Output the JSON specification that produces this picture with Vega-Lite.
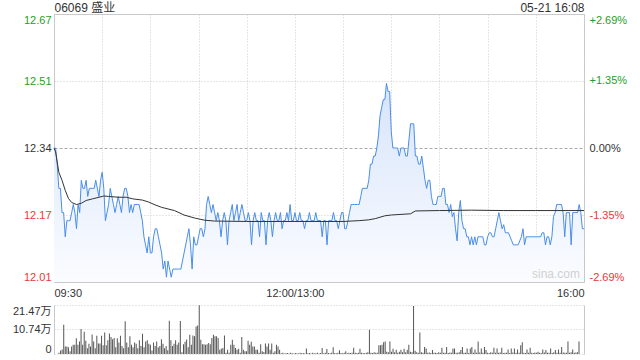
{
  "$schema": "https://vega.github.io/schema/vega-lite/v6.json",
  "background": "white",
  "padding": {"left": 12, "top": 0, "right": 5, "bottom": 2},
  "spacing": 6,
  "config": {
    "font": "Liberation Sans, Noto Sans CJK SC",
    "view": {"stroke": "#c8c8c8"},
    "axis": {"labelFont": "Liberation Sans, Noto Sans CJK SC", "labelFontSize": 11, "labelColor": "#333333", "ticks": false, "domain": false, "title": null}
  },
  "datasets": {
    "min": [
      {"t":0,"p":12.34,"v":0.5},{"t":1,"p":12.34,"v":1.5},{"t":2,"p":12.30,"v":2.0},{"t":3,"p":12.24,"v":12.8},{"t":4,"p":12.24,"v":3.3},{"t":5,"p":12.18,"v":3.3},{"t":6,"p":12.18,"v":3.0},{"t":7,"p":12.12,"v":1.2},{"t":8,"p":12.16,"v":3.3},{"t":9,"p":12.16,"v":4.0},
      {"t":10,"p":12.16,"v":4.0},{"t":11,"p":12.18,"v":6.9},{"t":12,"p":12.20,"v":4.0},{"t":13,"p":12.18,"v":5.5},{"t":14,"p":12.14,"v":11.0},{"t":15,"p":12.20,"v":4.0},{"t":16,"p":12.18,"v":9.8},{"t":17,"p":12.26,"v":5.8},{"t":18,"p":12.24,"v":2.5},{"t":19,"p":12.24,"v":4.5},
      {"t":20,"p":12.26,"v":3.3},{"t":21,"p":12.22,"v":8.5},{"t":22,"p":12.24,"v":5.5},{"t":23,"p":12.24,"v":2.5},{"t":24,"p":12.24,"v":8.0},{"t":25,"p":12.24,"v":4.6},{"t":26,"p":12.26,"v":4.6},{"t":27,"p":12.24,"v":8.0},{"t":28,"p":12.22,"v":3.8},{"t":29,"p":12.26,"v":9.4},
      {"t":30,"p":12.28,"v":3.8},{"t":31,"p":12.24,"v":6.0},{"t":32,"p":12.16,"v":9.0},{"t":33,"p":12.18,"v":7.5},{"t":34,"p":12.20,"v":6.5},{"t":35,"p":12.24,"v":7.0},{"t":36,"p":12.22,"v":3.0},{"t":37,"p":12.20,"v":6.9},{"t":38,"p":12.18,"v":5.0},{"t":39,"p":12.20,"v":8.0},
      {"t":40,"p":12.22,"v":3.5},{"t":41,"p":12.20,"v":2.5},{"t":42,"p":12.18,"v":14.3},{"t":43,"p":12.22,"v":5.0},{"t":44,"p":12.24,"v":3.0},{"t":45,"p":12.24,"v":7.8},{"t":46,"p":12.22,"v":4.0},{"t":47,"p":12.18,"v":3.0},{"t":48,"p":12.20,"v":5.0},{"t":49,"p":12.18,"v":4.5},
      {"t":50,"p":12.20,"v":2.5},{"t":51,"p":12.20,"v":6.0},{"t":52,"p":12.20,"v":3.5},{"t":53,"p":12.20,"v":8.9},{"t":54,"p":12.18,"v":3.0},{"t":55,"p":12.16,"v":5.5},{"t":56,"p":12.12,"v":6.0},{"t":57,"p":12.10,"v":4.5},{"t":58,"p":12.08,"v":4.0},{"t":59,"p":12.12,"v":1.5},
      {"t":60,"p":12.08,"v":5.0},{"t":61,"p":12.08,"v":3.5},{"t":62,"p":12.12,"v":5.5},{"t":63,"p":12.14,"v":2.8},{"t":64,"p":12.14,"v":3.5},{"t":65,"p":12.12,"v":6.5},{"t":66,"p":12.10,"v":4.5},{"t":67,"p":12.08,"v":2.5},{"t":68,"p":12.04,"v":3.5},{"t":69,"p":12.06,"v":1.6},
      {"t":70,"p":12.02,"v":14.6},{"t":71,"p":12.06,"v":6.0},{"t":72,"p":12.04,"v":3.5},{"t":73,"p":12.02,"v":4.5},{"t":74,"p":12.04,"v":6.0},{"t":75,"p":12.04,"v":4.0},{"t":76,"p":12.04,"v":5.0},{"t":77,"p":12.04,"v":14.5},{"t":78,"p":12.04,"v":0.8},{"t":79,"p":12.04,"v":4.3},
      {"t":80,"p":12.06,"v":5.4},{"t":81,"p":12.08,"v":6.3},{"t":82,"p":12.10,"v":3.0},{"t":83,"p":12.12,"v":8.4},{"t":84,"p":12.14,"v":4.0},{"t":85,"p":12.10,"v":8.1},{"t":86,"p":12.04,"v":7.8},{"t":87,"p":12.12,"v":12.0},{"t":88,"p":12.10,"v":12.5},{"t":89,"p":12.10,"v":21.4},
      {"t":90,"p":12.12,"v":6.2},{"t":91,"p":12.14,"v":4.3},{"t":92,"p":12.14,"v":4.3},{"t":93,"p":12.12,"v":4.0},{"t":94,"p":12.14,"v":4.3},{"t":95,"p":12.20,"v":4.8},{"t":96,"p":12.22,"v":4.3},{"t":97,"p":12.20,"v":7.0},{"t":98,"p":12.18,"v":8.4},{"t":99,"p":12.20,"v":7.8},
      {"t":100,"p":12.18,"v":7.8},{"t":101,"p":12.16,"v":7.0},{"t":102,"p":12.18,"v":1.9},{"t":103,"p":12.16,"v":2.3},{"t":104,"p":12.12,"v":2.6},{"t":105,"p":12.16,"v":8.1},{"t":106,"p":12.18,"v":0.5},{"t":107,"p":12.16,"v":1.9},{"t":108,"p":12.10,"v":0.6},{"t":109,"p":12.16,"v":4.0},
      {"t":110,"p":12.18,"v":6.2},{"t":111,"p":12.20,"v":4.0},{"t":112,"p":12.16,"v":2.6},{"t":113,"p":12.18,"v":1.9},{"t":114,"p":12.20,"v":2.3},{"t":115,"p":12.16,"v":0.5},{"t":116,"p":12.18,"v":7.5},{"t":117,"p":12.20,"v":1.9},{"t":118,"p":12.18,"v":1.2},{"t":119,"p":12.16,"v":1.2},
      {"t":120,"p":12.16,"v":5.8},{"t":121,"p":12.18,"v":4.0},{"t":122,"p":12.16,"v":5.4},{"t":123,"p":12.10,"v":3.3},{"t":124,"p":12.16,"v":3.3},{"t":125,"p":12.18,"v":1.9},{"t":126,"p":12.16,"v":1.9},{"t":127,"p":12.16,"v":0.5},{"t":128,"p":12.12,"v":4.3},{"t":129,"p":12.18,"v":1.2},
      {"t":130,"p":12.16,"v":0.9},{"t":131,"p":12.16,"v":4.6},{"t":132,"p":12.10,"v":3.3},{"t":133,"p":12.16,"v":4.6},{"t":134,"p":12.18,"v":1.9},{"t":135,"p":12.16,"v":4.6},{"t":136,"p":12.12,"v":0.5},{"t":137,"p":12.16,"v":1.2},{"t":138,"p":12.18,"v":4.0},{"t":139,"p":12.16,"v":3.3},
      {"t":140,"p":12.16,"v":1.9},{"t":141,"p":12.18,"v":0.3},{"t":142,"p":12.14,"v":0.5},{"t":143,"p":12.16,"v":0.2},{"t":144,"p":12.16,"v":0.3},{"t":145,"p":12.18,"v":0.4},{"t":146,"p":12.16,"v":0.2},{"t":147,"p":12.20,"v":0.6},{"t":148,"p":12.16,"v":0.3},{"t":149,"p":12.16,"v":0.2},
      {"t":150,"p":12.18,"v":0.4},{"t":151,"p":12.16,"v":0.3},{"t":152,"p":12.16,"v":0.2},{"t":153,"p":12.18,"v":0.5},{"t":154,"p":12.16,"v":0.3},{"t":155,"p":12.16,"v":0.4},{"t":156,"p":12.14,"v":0.2},{"t":157,"p":12.16,"v":2.4},{"t":158,"p":12.16,"v":0.3},{"t":159,"p":12.18,"v":0.4},
      {"t":160,"p":12.16,"v":0.2},{"t":161,"p":12.16,"v":0.5},{"t":162,"p":12.16,"v":0.3},{"t":163,"p":12.18,"v":0.3},{"t":164,"p":12.16,"v":0.6},{"t":165,"p":12.16,"v":0.2},{"t":166,"p":12.16,"v":0.4},{"t":167,"p":12.12,"v":2.6},{"t":168,"p":12.16,"v":0.3},{"t":169,"p":12.16,"v":0.5},
      {"t":170,"p":12.10,"v":2.2},{"t":171,"p":12.16,"v":0.4},{"t":172,"p":12.16,"v":0.3},{"t":173,"p":12.16,"v":0.6},{"t":174,"p":12.18,"v":3.0},{"t":175,"p":12.16,"v":0.4},{"t":176,"p":12.16,"v":0.3},{"t":177,"p":12.14,"v":0.5},{"t":178,"p":12.16,"v":1.6},{"t":179,"p":12.18,"v":0.4},
      {"t":180,"p":12.18,"v":0.3},{"t":181,"p":12.14,"v":0.6},{"t":182,"p":12.14,"v":1.2},{"t":183,"p":12.16,"v":0.3},{"t":184,"p":12.18,"v":0.5},{"t":185,"p":12.20,"v":0.4},{"t":186,"p":12.20,"v":0.6},{"t":187,"p":12.20,"v":2.7},{"t":188,"p":12.20,"v":0.5},{"t":189,"p":12.20,"v":0.4},
      {"t":190,"p":12.20,"v":0.6},{"t":191,"p":12.22,"v":2.3},{"t":192,"p":12.24,"v":0.5},{"t":193,"p":12.24,"v":0.4},{"t":194,"p":12.24,"v":0.3},{"t":195,"p":12.24,"v":0.6},{"t":196,"p":12.26,"v":0.8},{"t":197,"p":12.30,"v":10.6},{"t":198,"p":12.30,"v":0.6},{"t":199,"p":12.32,"v":0.4},
      {"t":200,"p":12.32,"v":0.8},{"t":201,"p":12.34,"v":0.5},{"t":202,"p":12.37,"v":0.6},{"t":203,"p":12.42,"v":3.8},{"t":204,"p":12.44,"v":3.8},{"t":205,"p":12.46,"v":4.0},{"t":206,"p":12.46,"v":5.2},{"t":207,"p":12.50,"v":5.5},{"t":208,"p":12.48,"v":1.0},{"t":209,"p":12.48,"v":0.8},
      {"t":210,"p":12.38,"v":5.5},{"t":211,"p":12.34,"v":1.0},{"t":212,"p":12.34,"v":2.3},{"t":213,"p":12.34,"v":0.8},{"t":214,"p":12.34,"v":1.9},{"t":215,"p":12.32,"v":0.6},{"t":216,"p":12.34,"v":1.0},{"t":217,"p":12.34,"v":1.9},{"t":218,"p":12.34,"v":0.8},{"t":219,"p":12.32,"v":2.3},
      {"t":220,"p":12.32,"v":0.8},{"t":221,"p":12.36,"v":1.9},{"t":222,"p":12.40,"v":4.0},{"t":223,"p":12.40,"v":1.0},{"t":224,"p":12.40,"v":0.8},{"t":225,"p":12.32,"v":21.0},{"t":226,"p":12.32,"v":1.4},{"t":227,"p":12.30,"v":0.8},{"t":228,"p":12.30,"v":0.6},{"t":229,"p":12.32,"v":9.4},
      {"t":230,"p":12.29,"v":0.8},{"t":231,"p":12.26,"v":0.6},{"t":232,"p":12.24,"v":3.1},{"t":233,"p":12.26,"v":2.4},{"t":234,"p":12.26,"v":0.5},{"t":235,"p":12.22,"v":0.7},{"t":236,"p":12.20,"v":0.4},{"t":237,"p":12.20,"v":1.7},{"t":238,"p":12.20,"v":0.5},{"t":239,"p":12.22,"v":0.6},
      {"t":240,"p":12.22,"v":0.4},{"t":241,"p":12.22,"v":0.8},{"t":242,"p":12.24,"v":0.5},{"t":243,"p":12.24,"v":2.7},{"t":244,"p":12.20,"v":0.6},{"t":245,"p":12.20,"v":0.5},{"t":246,"p":12.18,"v":3.1},{"t":247,"p":12.20,"v":0.4},{"t":248,"p":12.17,"v":0.7},{"t":249,"p":12.18,"v":0.5},
      {"t":250,"p":12.14,"v":2.4},{"t":251,"p":12.11,"v":2.4},{"t":252,"p":12.18,"v":0.6},{"t":253,"p":12.21,"v":0.5},{"t":254,"p":12.16,"v":0.8},{"t":255,"p":12.14,"v":1.7},{"t":256,"p":12.14,"v":3.1},{"t":257,"p":12.12,"v":0.6},{"t":258,"p":12.12,"v":0.5},{"t":259,"p":12.10,"v":2.4},
      {"t":260,"p":12.12,"v":0.4},{"t":261,"p":12.10,"v":2.4},{"t":262,"p":12.12,"v":3.1},{"t":263,"p":12.10,"v":0.6},{"t":264,"p":12.12,"v":2.0},{"t":265,"p":12.12,"v":0.5},{"t":266,"p":12.12,"v":5.5},{"t":267,"p":12.12,"v":0.7},{"t":268,"p":12.10,"v":2.4},{"t":269,"p":12.10,"v":0.5},
      {"t":270,"p":12.12,"v":3.1},{"t":271,"p":12.13,"v":1.7},{"t":272,"p":12.13,"v":0.6},{"t":273,"p":12.12,"v":0.4},{"t":274,"p":12.12,"v":0.8},{"t":275,"p":12.14,"v":0.5},{"t":276,"p":12.16,"v":2.7},{"t":277,"p":12.18,"v":0.6},{"t":278,"p":12.16,"v":2.4},{"t":279,"p":12.14,"v":0.5},
      {"t":280,"p":12.15,"v":0.7},{"t":281,"p":12.13,"v":2.7},{"t":282,"p":12.13,"v":0.4},{"t":283,"p":12.13,"v":0.6},{"t":284,"p":12.12,"v":0.5},{"t":285,"p":12.11,"v":2.0},{"t":286,"p":12.10,"v":0.4},{"t":287,"p":12.10,"v":2.4},{"t":288,"p":12.10,"v":0.7},{"t":289,"p":12.10,"v":2.4},
      {"t":290,"p":12.11,"v":0.5},{"t":291,"p":12.12,"v":2.0},{"t":292,"p":12.14,"v":0.6},{"t":293,"p":12.10,"v":3.8},{"t":294,"p":12.12,"v":5.2},{"t":295,"p":12.12,"v":0.6},{"t":296,"p":12.12,"v":0.4},{"t":297,"p":12.12,"v":2.0},{"t":298,"p":12.12,"v":0.5},{"t":299,"p":12.12,"v":2.7},
      {"t":300,"p":12.12,"v":0.6},{"t":301,"p":12.12,"v":0.4},{"t":302,"p":12.12,"v":0.7},{"t":303,"p":12.12,"v":0.5},{"t":304,"p":12.13,"v":1.0},{"t":305,"p":12.13,"v":0.6},{"t":306,"p":12.10,"v":0.4},{"t":307,"p":12.12,"v":2.0},{"t":308,"p":12.12,"v":0.7},{"t":309,"p":12.10,"v":1.7},
      {"t":310,"p":12.12,"v":0.5},{"t":311,"p":12.17,"v":0.6},{"t":312,"p":12.18,"v":2.4},{"t":313,"p":12.20,"v":0.4},{"t":314,"p":12.20,"v":0.8},{"t":315,"p":12.20,"v":1.7},{"t":316,"p":12.20,"v":0.6},{"t":317,"p":12.18,"v":2.0},{"t":318,"p":12.12,"v":0.5},{"t":319,"p":12.18,"v":3.1},
      {"t":320,"p":12.18,"v":0.7},{"t":321,"p":12.18,"v":0.5},{"t":322,"p":12.10,"v":0.6},{"t":323,"p":12.18,"v":5.5},{"t":324,"p":12.18,"v":0.5},{"t":325,"p":12.18,"v":0.8},{"t":326,"p":12.18,"v":2.0},{"t":327,"p":12.20,"v":0.6},{"t":328,"p":12.18,"v":0.7},{"t":329,"p":12.14,"v":0.8},
      {"t":330,"p":12.14,"v":5.5}
    ],
    "avg": [
      {"t":0,"a":12.34},{"t":1,"a":12.33},{"t":3,"a":12.28},{"t":5,"a":12.26},{"t":7,"a":12.235},{"t":9,"a":12.215},{"t":11,"a":12.205},{"t":14,"a":12.2},{"t":17,"a":12.203},{"t":20,"a":12.21},
      {"t":24,"a":12.214},{"t":28,"a":12.218},{"t":31,"a":12.221},{"t":34,"a":12.22},{"t":40,"a":12.218},{"t":45,"a":12.218},{"t":49,"a":12.214},{"t":55,"a":12.211},{"t":59,"a":12.206},{"t":63,"a":12.199},
      {"t":67,"a":12.193},{"t":75,"a":12.185},{"t":81,"a":12.174},{"t":88,"a":12.166},{"t":94,"a":12.161},{"t":100,"a":12.159},{"t":120,"a":12.158},{"t":150,"a":12.158},{"t":180,"a":12.158},{"t":190,"a":12.16},
      {"t":196,"a":12.162},{"t":200,"a":12.165},{"t":206,"a":12.172},{"t":210,"a":12.174},{"t":222,"a":12.177},{"t":225,"a":12.184},{"t":240,"a":12.185},{"t":260,"a":12.186},{"t":280,"a":12.185},{"t":300,"a":12.185},{"t":330,"a":12.185}
    ]
  },
  "vconcat": [
    {
      "width": 530,
      "height": 268,
      "layer": [
        {
          "layer": [
            {
              "data": {"name": "min"},
              "mark": {"type": "area", "clip": true, "color": {"gradient": "linear", "x1": 0, "y1": 0, "x2": 0, "y2": 1, "stops": [{"offset": 0, "color": "#d6e4fa"}, {"offset": 1, "color": "#fbfcff"}]}},
              "encoding": {
                "x": {"field": "t", "type": "quantitative", "scale": {"domain": [0, 330], "nice": false, "zero": false},
                  "axis": {"values": [0, 30, 60, 90, 120, 150, 180, 210, 240, 270, 300, 330], "labelExpr": "datum.value == 0 ? '09:30' : datum.value == 150 ? '12:00/13:00' : datum.value == 330 ? '16:00' : ''", "labelFlush": true, "labelOverlap": false, "grid": true, "gridColor": "#cccccc", "gridDash": [1, 2], "labelPadding": 5}},
                "y": {"field": "p", "type": "quantitative", "scale": {"domain": [12.008, 12.672], "nice": false, "zero": false},
                  "axis": {"values": [12.008, 12.174, 12.34, 12.506, 12.672], "format": ".2f", "labelFlush": true, "labelPadding": 3, "grid": true,
                    "gridColor": {"condition": {"test": "datum.value == 12.34", "value": "#aaaaaa"}, "value": "#cccccc"},
                    "gridDash": {"condition": {"test": "datum.value == 12.34", "value": [3, 2]}, "value": [1, 2]},
                    "labelColor": {"condition": [{"test": "datum.value > 12.35", "value": "#1ea01e"}, {"test": "datum.value < 12.33", "value": "#f03535"}], "value": "#333333"}}},
                "y2": {"datum": 12.008}
              }
            },
            {
              "data": {"name": "min"},
              "mark": {"type": "line", "color": "#4a8ee8", "strokeWidth": 1},
              "encoding": {"x": {"field": "t", "type": "quantitative"}, "y": {"field": "p", "type": "quantitative"}}
            },
            {
              "data": {"name": "avg"},
              "mark": {"type": "line", "color": "#333333", "strokeWidth": 1},
              "encoding": {"x": {"field": "t", "type": "quantitative"}, "y": {"field": "a", "type": "quantitative"}}
            },
            {
              "data": {"values": [{"t": 330, "p": 12.008, "label": "sina.com"}]},
              "mark": {"type": "text", "align": "right", "baseline": "bottom", "dx": -4, "dy": -1, "color": "#d0d0d0", "fontSize": 12},
              "encoding": {"x": {"field": "t", "type": "quantitative"}, "y": {"field": "p", "type": "quantitative"}, "text": {"field": "label"}}
            }
          ]
        },
        {
          "data": {"values": [{"t": 0, "pct": 0}]},
          "mark": {"type": "point", "opacity": 0},
          "encoding": {
            "x": {"field": "t", "type": "quantitative", "scale": {"domain": [0, 330], "nice": false, "zero": false},
              "axis": {"orient": "top", "values": [0, 330], "labelExpr": "datum.value == 0 ? '06069 盛业' : '05-21 16:08'", "labelFlush": true, "labelOverlap": false, "labelFontSize": 12, "labelPadding": 0, "grid": false}},
            "y": {"field": "pct", "type": "quantitative", "scale": {"domain": [-2.69, 2.69], "nice": false, "zero": false},
              "axis": {"orient": "right", "values": [-2.69, -1.35, 0, 1.35, 2.69], "labelExpr": "datum.value > 0 ? '+' + format(datum.value, '.2f') + '%' : datum.value < 0 ? '-' + format(-datum.value, '.2f') + '%' : '0.00%'", "labelFlush": true, "labelPadding": 5, "grid": false,
                "labelColor": {"condition": [{"test": "datum.value > 0.01", "value": "#1ea01e"}, {"test": "datum.value < -0.01", "value": "#f03535"}], "value": "#333333"}}}
          }
        }
      ],
      "resolve": {"scale": {"x": "independent", "y": "independent"}, "axis": {"x": "independent", "y": "independent"}}
    },
    {
      "width": 530,
      "height": 49,
      "view": {"stroke": null},
      "layer": [
        {
          "data": {"name": "min"},
          "mark": {"type": "bar", "size": 1, "color": "#555555"},
          "encoding": {
            "x": {"field": "t", "type": "quantitative", "scale": {"domain": [0, 330], "nice": false, "zero": false}, "axis": null},
            "y": {"field": "v", "type": "quantitative", "scale": {"domain": [0, 21.47], "nice": false},
              "axis": {"values": [0, 10.74, 21.47], "labelExpr": "datum.value == 0 ? '0' : format(datum.value, '.2f') + '万'", "labelFlush": true, "labelPadding": 3, "grid": true, "gridColor": "#cccccc", "gridDash": [1, 2], "domain": true, "domainColor": "#c8c8c8"}}
          }
        },
        {
          "data": {"values": [{"v": 0}]},
          "mark": {"type": "point", "opacity": 0},
          "encoding": {
            "y": {"field": "v", "type": "quantitative", "scale": {"domain": [0, 21.47], "nice": false},
              "axis": {"orient": "right", "labels": false, "domain": true, "domainColor": "#c8c8c8", "grid": false, "ticks": false}}
          }
        }
      ],
      "resolve": {"scale": {"y": "independent"}}
    }
  ]
}
